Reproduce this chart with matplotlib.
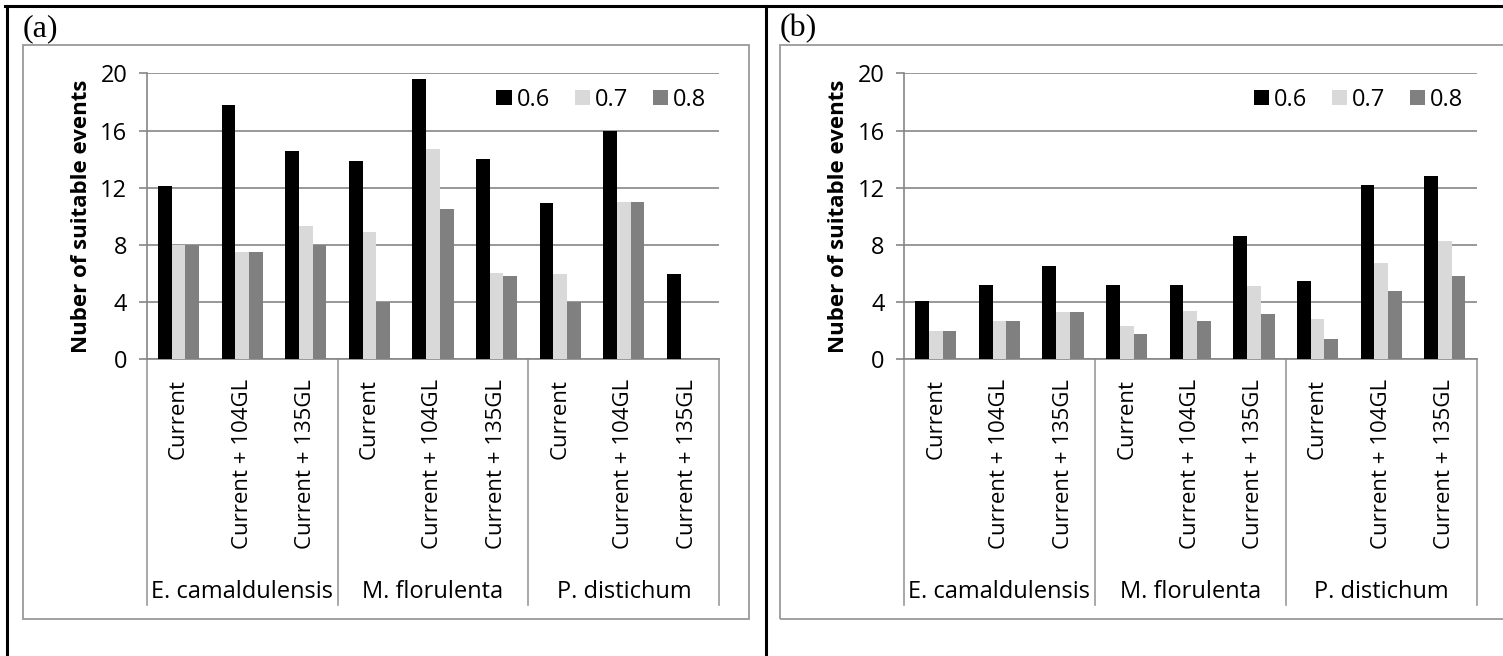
import numpy as np
import matplotlib
matplotlib.use("Agg")
import matplotlib.pyplot as plt
from matplotlib.patches import Rectangle
from matplotlib.lines import Line2D
from matplotlib import transforms

plt.rcParams['font.family'] = ['Open Sans', 'DejaVu Sans']

# data
species = ["E. camaldulensis", "M. florulenta", "P. distichum"]
scenarios = ["Current", "Current + 104GL", "Current + 135GL"]
thresholds = ["0.6", "0.7", "0.8"]

a_06 = [12.1, 17.8, 14.6, 13.9, 19.6, 14.0, 10.95, 16.0, 6.0]
a_07 = [8.0, 7.5, 9.3, 8.9, 14.7, 6.05, 5.95, 11.0, 0.0]
a_08 = [8.0, 7.5, 8.0, 4.0, 10.5, 5.8, 4.0, 11.0, 0.0]

b_06 = [4.1, 5.2, 6.5, 5.2, 5.2, 8.6, 5.5, 12.2, 12.8]
b_07 = [2.0, 2.7, 3.3, 2.3, 3.4, 5.1, 2.85, 6.75, 8.3]
b_08 = [2.0, 2.7, 3.3, 1.75, 2.7, 3.15, 1.45, 4.8, 5.8]

colors = ["#000000", "#d9d9d9", "#808080"]
grid_c = "#868686"
W, H = 1503, 656

fig = plt.figure(figsize=(W / 100, H / 100), dpi=100)


def px_rect(x0, y0, x1, y1):
    # pixel box (top-left origin) -> figure fraction [l, b, w, h]
    return [x0 / W, 1 - y1 / H, (x1 - x0) / W, (y1 - y0) / H]


def draw_panel(left_px, frame_x0, frame_x1, series, tag):
    # grey chart-area frame
    l, b, w, h = px_rect(frame_x0, 45, frame_x1, 619)
    fig.patches.append(Rectangle((l, b), w, h, transform=fig.transFigure,
                                 fill=False, edgecolor="#9a9a9a", linewidth=1.3))
    fig.text(frame_x0 / W, 1 - 36 / H, tag, family="Liberation Serif",
             fontsize=23, ha="left", va="baseline")

    ax = fig.add_axes(px_rect(left_px, 73.3, left_px + 572.6, 359.3))
    x = np.arange(len(species) * len(scenarios))
    bw = 0.216
    for i, vals in enumerate(series):
        ax.bar(x + (i - 1) * bw, vals, width=bw, color=colors[i],
               linewidth=0, label=thresholds[i], zorder=3)

    ax.set_xlim(-0.5, 8.5)
    ax.set_ylim(0, 20)
    ax.set_yticks(range(0, 21, 4))
    ax.yaxis.grid(True, color=grid_c, linewidth=1.2, zorder=0)
    ax.set_axisbelow(True)
    for s in ["top", "right"]:
        ax.spines[s].set_visible(False)
    ax.spines["left"].set_color(grid_c)
    ax.spines["bottom"].set_color(grid_c)
    ax.spines["left"].set_linewidth(1.2)
    ax.spines["bottom"].set_linewidth(1.2)
    ax.tick_params(axis="y", length=6, width=1.2, color=grid_c,
                   labelsize=17, pad=8)
    ax.set_xticks(x)
    ax.set_xticklabels(scenarios * 3, rotation=90, va="top", ha="center")
    ax.tick_params(axis="x", length=0, labelsize=16, pad=14)
    ax.set_ylabel("Nuber of suitable events", fontsize=16, fontweight="bold",
                  labelpad=6)

    trans = transforms.blended_transform_factory(ax.transData, ax.transAxes)
    for xd in [-0.5, 2.5, 5.5, 8.5]:
        ax.add_line(Line2D([xd, xd], [0, -0.859], transform=trans,
                           color="#9a9a9a", linewidth=1.2, clip_on=False))
    for k, name in enumerate(species):
        ax.text(3 * k + 1, -0.814, name, transform=trans, ha="center",
                va="center", fontsize=17)

    ax.legend(loc="center right", bbox_to_anchor=(0.977, 0.907), ncol=3,
              frameon=False, fontsize=17, handlelength=0.65,
              handleheight=0.65, handletextpad=0.2, columnspacing=1.05,
              borderpad=0, borderaxespad=0)
    return ax


draw_panel(146.7, 22.7, 749, [a_06, a_07, a_08], "(a)")
draw_panel(904, 780, 1510, [b_06, b_07, b_08], "(b)")

# outer table borders
for xs, ys in [([5, W], [6, 6]), ([7, 7], [6, H]), ([765.5, 765.5], [6, H])]:
    fig.add_artist(Line2D([v / W for v in xs], [1 - v / H for v in ys],
                          transform=fig.transFigure, color="black", linewidth=2.2))

fig.savefig("out.png", dpi=100)
